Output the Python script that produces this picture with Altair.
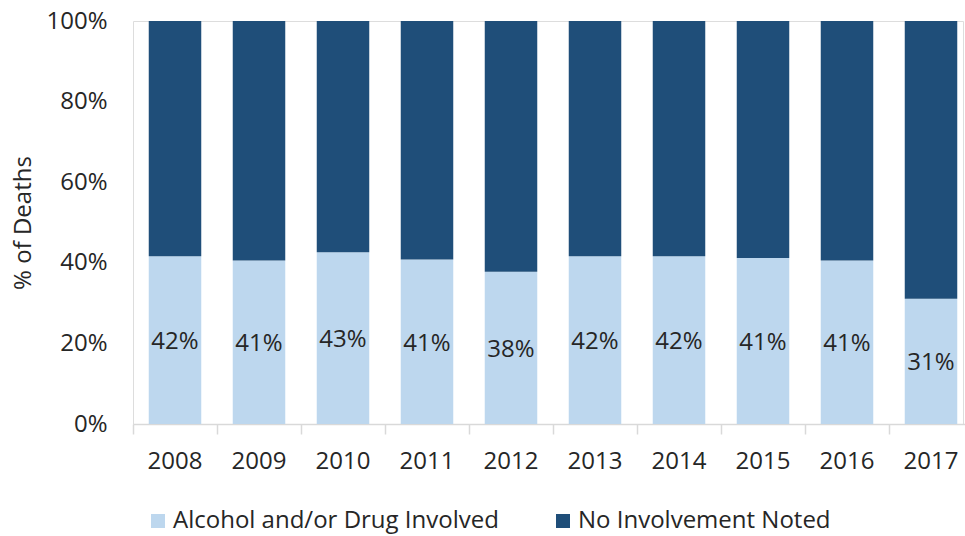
import altair as alt
import pandas as pd

years = ["2008", "2009", "2010", "2011", "2012", "2013", "2014", "2015", "2016", "2017"]
alcohol_pct = [41.6, 40.6, 42.6, 40.8, 37.8, 41.6, 41.6, 41.2, 40.6, 31.1]
series_names = ["Alcohol and/or Drug Involved", "No Involvement Noted"]
series_colors = ["#BDD7EE", "#1F4E79"]
y_ticks = [0, 0.2, 0.4, 0.6, 0.8, 1.0]

FONT = "Open Sans"
TXT = "#262626"
FS = 24

rows = []
for y, a in zip(years, alcohol_pct):
    rows.append({"year": y, "series": series_names[0], "value": a / 100, "order": 0})
    rows.append({"year": y, "series": series_names[1], "value": 1 - a / 100, "order": 1})
df = pd.DataFrame(rows)

lab = pd.DataFrame({"year": years, "mid": [a / 200 for a in alcohol_pct],
                    "label": [f"{round(a)}%" for a in alcohol_pct]})

xscale = alt.Scale(domain=years, range=[0, 840], paddingInner=0.375, paddingOuter=0.1875)

bars = alt.Chart(df).mark_bar(stroke=None).encode(
    x=alt.X("year:N", scale=xscale, sort=years,
            axis=alt.Axis(title=None, labelAngle=0, domainColor="#d9d9d9", domainWidth=1.5,
                          tickColor="#d9d9d9", tickSize=10, tickWidth=1.5, bandPosition=-0.3,
                          labelPadding=15, labelFontSize=FS, labelFont=FONT, labelColor=TXT)),
    y=alt.Y("value:Q", stack="zero", scale=alt.Scale(domain=[0, 1], nice=False),
            axis=alt.Axis(values=y_ticks, format=".0%", grid=False, domain=False, ticks=False,
                          labelPadding=26, labelFontSize=FS, labelFont=FONT, labelColor=TXT,
                          title="% of Deaths", titleFontSize=FS, titleFont=FONT,
                          titleColor=TXT, titleFontWeight="normal", titlePadding=10)),
    color=alt.Color("series:N", scale=alt.Scale(domain=series_names, range=series_colors),
                    legend=alt.Legend(title=None, orient="none", direction="horizontal",
                                      legendX=13, legendY=488, symbolType="square",
                                      symbolSize=196, symbolStrokeWidth=0, labelFontSize=FS,
                                      labelFont=FONT, labelColor=TXT, labelOffset=3,
                                      columnPadding=52, padding=0, labelLimit=500)),
    order=alt.Order("order:Q"),
)

text = alt.Chart(lab).mark_text(font=FONT, fontSize=FS, color=TXT, baseline="middle", dy=2).encode(
    x=alt.X("year:N", scale=xscale, sort=years),
    y=alt.Y("mid:Q"),
    text="label:N",
)

chart = (bars + text).properties(
    width=830, height=403,
    autosize=alt.AutoSizeParams(type="none"),
    padding={"left": 133, "top": 21, "right": 2, "bottom": 112},
).configure_view(stroke=None).configure(background="white")

chart.save("out.html", embed_options={"renderer": "svg", "actions": False})
